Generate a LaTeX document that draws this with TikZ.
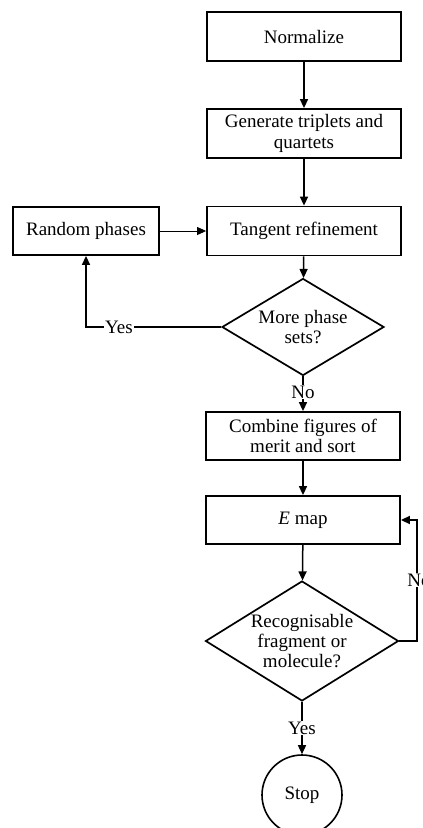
\documentclass[tikz,border=0pt]{standalone}
\usepackage{fontspec}
\setmainfont{Liberation Serif}
\usetikzlibrary{arrows.meta,shapes.geometric}
\begin{document}
\begin{tikzpicture}[x=1pt,y=-1pt,
  font=\fontsize{19}{20.5}\selectfont,
  box/.style={draw,line width=1.8pt,rectangle,inner sep=0pt,minimum width=194pt,minimum height=49pt,align=center},
  dia/.style={draw,line width=1.7pt,diamond,inner sep=0pt,align=center},
  arr/.style={line width=1.5pt,-{Triangle[length=9pt,width=8pt]}},
  thinarr/.style={line width=0.9pt,-{Triangle[length=9pt,width=8pt]}},
  lbl/.style={fill=white,inner sep=1pt}]
\useasboundingbox (0,0) rectangle (423,828);
\node[box] (norm) at (304,36.5) {Normalize};
\node[box] (gen) at (304,133.5) {Generate triplets and\\quartets};
\node[box] (tan) at (304,231) {Tangent refinement};
\node[box,minimum width=146pt,minimum height=48pt] (rand) at (86,231) {Random phases};
\node[dia,aspect=1.67,minimum width=162pt,minimum height=97pt] (d1) at (303,327) {More phase\\sets?};
\node[box,minimum height=48pt] (comb) at (303,436) {Combine figures of\\merit and sort};
\node[box,minimum height=48pt] (emap) at (303,520) {\textit{E} map};
\node[dia,aspect=1.6,minimum width=193pt,minimum height=120pt,font=\fontsize{19}{20}\selectfont] (d2) at (302,641) {Recognisable\\fragment or\\molecule?};
\node[draw,circle,line width=1.6pt,minimum size=80pt,inner sep=0pt] (stop) at (302,795) {Stop};
\coordinate (yc) at (86,327);
\coordinate (nc1) at (417,641);
\coordinate (nc2) at (417,520);
\draw[arr] (norm) -- (gen);
\draw[arr] (gen) -- (tan);
\draw[thinarr] (rand) -- (tan);
\draw[arr] (tan) -- (d1);
\draw[arr] (d1.west) -- (yc) -- (rand.south);
\node[lbl] (yes1) at (119,327) {Yes};
\draw[arr] (d1.south) -- (comb.north);
\node[lbl] (no1) at (303,392) {No};
\draw[arr] (comb) -- (emap);
\draw[arr] (emap) -- (d2);
\draw[arr] (d2.east) -- (nc1) -- (nc2) -- (emap.east);
\node[lbl] (no2) at (419,580) {No};
\draw[arr] (d2.south) -- (stop.north);
\node[lbl] (yes2) at (302,728) {Yes};
\end{tikzpicture}
\end{document}
